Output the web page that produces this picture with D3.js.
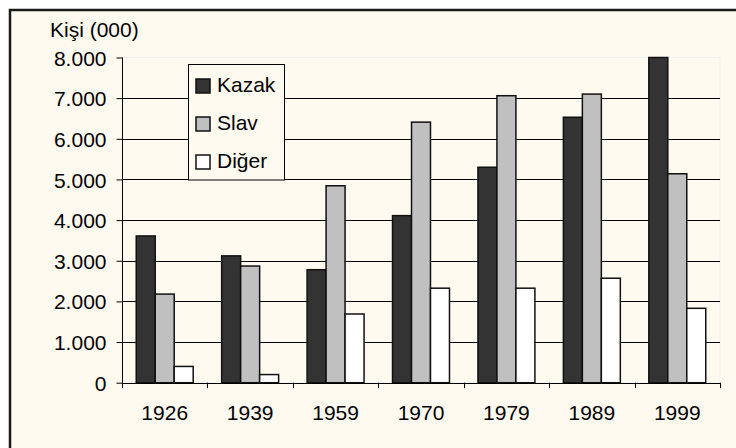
<!DOCTYPE html>
<html>
<head>
<meta charset="utf-8">
<script src="https://cdn.jsdelivr.net/npm/d3@7"></script>
<style>
  body { margin: 0; background: #fff; }
  svg { display: block; }
  text { font-family: Arial, "Liberation Sans", sans-serif; fill: #000; }
</style>
</head>
<body>
<svg width="736" height="448"></svg>
<script>
// data
var years = ["1926", "1939", "1959", "1970", "1979", "1989", "1999"];
var series = ["Kazak", "Slav", "Diğer"];
var kazak = [3610, 3120, 2780, 4110, 5300, 6530, 8000];
var slav = [2180, 2870, 4845, 6410, 7060, 7100, 5140];
var diger = [400, 200, 1690, 2325, 2325, 2570, 1830];
var yTicks = [0, 1000, 2000, 3000, 4000, 5000, 6000, 7000, 8000];

var colors = {"Kazak": "#333333", "Slav": "#c0c0c0", "Diğer": "#ffffff"};
var values = {"Kazak": kazak, "Slav": slav, "Diğer": diger};

var svg = d3.select("svg");
var fontSize = 21;

// outer frame
svg.append("rect")
  .attr("x", 10).attr("y", 10)
  .attr("width", 740).attr("height", 460)
  .attr("fill", "#fffaf0")
  .attr("stroke", "#1a1a1a")
  .attr("stroke-width", 2.5);

var plotLeft = 122, plotRight = 720, plotTop = 57.5, plotBottom = 382.7;

var x = d3.scaleBand().domain(years).range([plotLeft, plotRight]);
var y = d3.scaleLinear().domain([0, 8000]).range([plotBottom, plotTop]);

// Excel style gap width 150%
var barW = x.bandwidth() / 4.5;
var offset = barW * 0.75;

// plot area
svg.append("rect")
  .attr("x", plotLeft).attr("y", plotTop)
  .attr("width", plotRight - plotLeft).attr("height", plotBottom - plotTop)
  .attr("fill", "none")
  .attr("stroke", "#f2f2f2")
  .attr("stroke-width", 1);

// grid lines
svg.append("g")
  .selectAll("line")
  .data(yTicks.filter(function(d) { return d > 0 && d < 8000; }))
  .enter().append("line")
  .attr("x1", plotLeft).attr("x2", plotRight)
  .attr("y1", function(d) { return Math.round(y(d)) + 0.5; })
  .attr("y2", function(d) { return Math.round(y(d)) + 0.5; })
  .attr("stroke", "#000")
  .attr("stroke-width", 1);

// bars
var table = [];
years.forEach(function(yr, i) {
  series.forEach(function(s, j) {
    table.push({year: yr, key: s, idx: j, value: values[s][i]});
  });
});

svg.append("g")
  .selectAll("rect")
  .data(table)
  .enter().append("rect")
  .attr("x", function(d) { return x(d.year) + offset + d.idx * barW; })
  .attr("y", function(d) { return y(d.value); })
  .attr("width", barW)
  .attr("height", function(d) { return plotBottom - y(d.value); })
  .attr("fill", function(d) { return colors[d.key]; })
  .attr("stroke", "#111")
  .attr("stroke-width", 1.5);

// y axis
var yAxis = svg.append("g")
  .attr("transform", "translate(" + (plotLeft + 0.5) + ",0)")
  .call(d3.axisLeft(y).tickValues(yTicks).tickSize(6).tickPadding(10)
    .tickFormat(function(d) { return d3.format(",")(d).replace(/,/g, "."); }));
yAxis.select(".domain").attr("d", "M0," + plotTop + "V" + plotBottom);
yAxis.selectAll("text").style("font-size", fontSize + "px").attr("dy", "0.36em");

// x axis
var xAxis = svg.append("g")
  .attr("transform", "translate(0," + (Math.round(plotBottom) + 0.5) + ")")
  .call(d3.axisBottom(x).tickSize(0).tickPadding(22));
xAxis.select(".domain").attr("d", "M" + plotLeft + ",0H" + plotRight);
xAxis.selectAll("text").style("font-size", fontSize + "px");

// x ticks on category boundaries
svg.append("g")
  .selectAll("line")
  .data(years.concat(["end"]))
  .enter().append("line")
  .attr("x1", function(d, i) { return Math.round(plotLeft + i * x.step()) + 0.5; })
  .attr("x2", function(d, i) { return Math.round(plotLeft + i * x.step()) + 0.5; })
  .attr("y1", plotBottom)
  .attr("y2", plotBottom + 5.5)
  .attr("stroke", "#000");

// axis title
svg.append("text")
  .attr("x", 50).attr("y", 37)
  .style("font-size", fontSize + "px")
  .text("Kişi (000)");

// legend
var legend = svg.append("g");
legend.append("rect")
  .attr("x", 188.5).attr("y", 64.5)
  .attr("width", 96).attr("height", 115.5)
  .attr("fill", "#fffaf0")
  .attr("stroke", "#000");

var items = legend.selectAll(".item")
  .data(series)
  .enter().append("g")
  .attr("transform", function(d, i) { return "translate(196," + (79 + i * 38) + ")"; });

items.append("rect")
  .attr("width", 14).attr("height", 14)
  .attr("fill", function(d) { return colors[d]; })
  .attr("stroke", "#111")
  .attr("stroke-width", 1.5);

items.append("text")
  .attr("x", 21).attr("y", 12.5)
  .style("font-size", fontSize + "px")
  .text(function(d) { return d; });
</script>
</body>
</html>
